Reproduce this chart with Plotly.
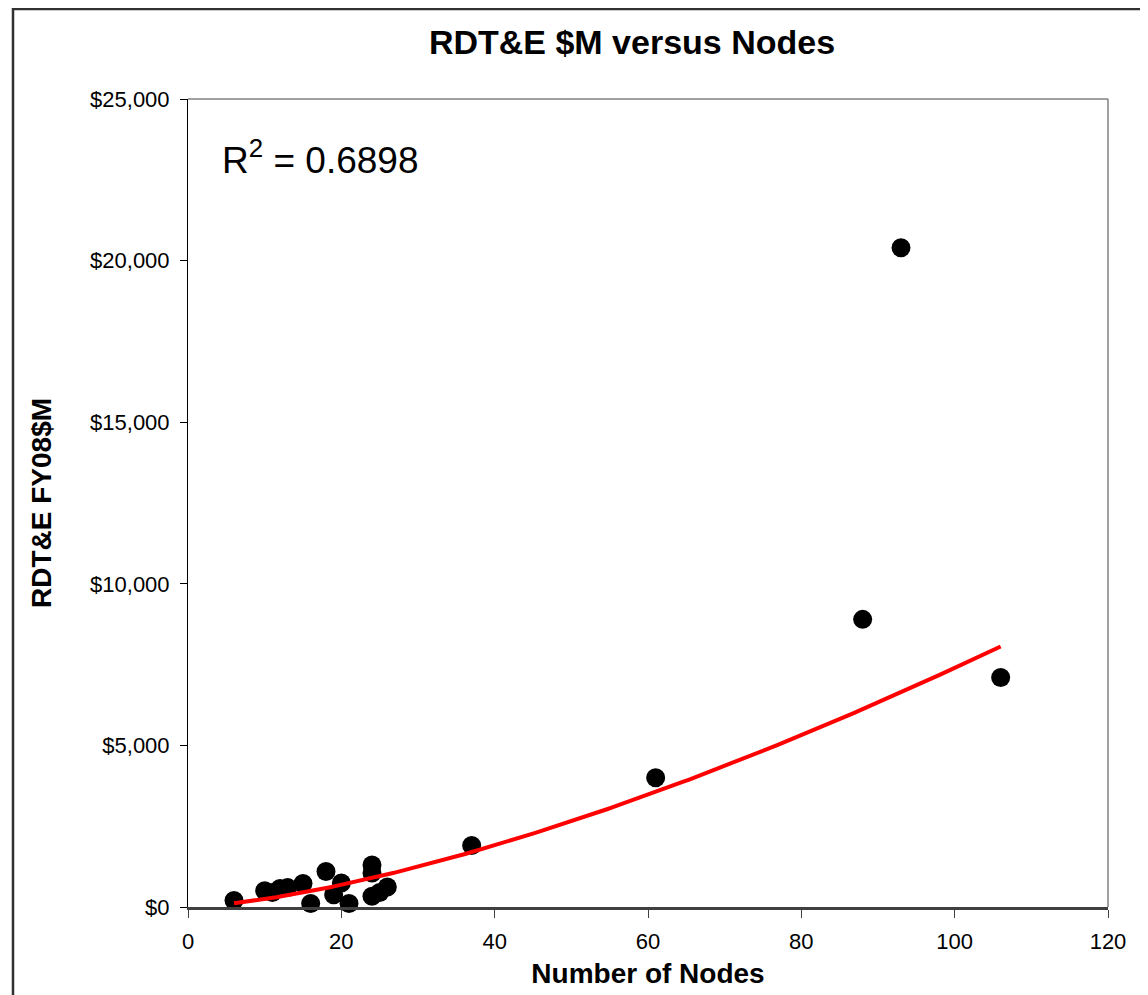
import numpy as np
import plotly.graph_objects as go

# Data
nodes = [6, 10, 11, 12, 13, 15, 16, 18, 19, 20, 21, 24, 24, 24, 25, 26, 37, 61, 88, 93, 106]
rdte = [200, 500, 450, 570, 600, 730, 110, 1100, 380, 740, 110, 1300, 1050, 330, 450, 620,
        1900, 4000, 8900, 20400, 7100]
x_ticks = [0, 20, 40, 60, 80, 100, 120]
y_ticks = [0, 5000, 10000, 15000, 20000, 25000]
y_tick_labels = ["$0", "$5,000", "$10,000", "$15,000", "$20,000", "$25,000"]
r2_text = "R<sup>2</sup> = 0.6898"

# Power trendline (least squares in log-log space, as the spreadsheet does)
lx = np.log(np.array(nodes, dtype=float))
ly = np.log(np.array(rdte, dtype=float))
b, ln_a = np.polyfit(lx, ly, 1)
tx = np.linspace(min(nodes), max(nodes), 200)
ty = np.exp(ln_a) * tx ** b

OFF = 8  # page body margin
W, H = 1148, 995
# plot area in page pixels
PL, PR, PT, PB = 188, 1108, 99, 907
L, R, T, B = PL - OFF, PR - OFF, PT - OFF, PB - OFF
pw, ph = R - L, B - T


def px(page_x):
    return (page_x - OFF - L) / pw


def py(page_y):
    return (B - (page_y - OFF)) / ph


fig = go.Figure()
fig.add_trace(go.Scatter(x=nodes, y=rdte, mode="markers",
                         marker=dict(color="black", size=19, line=dict(width=0)),
                         showlegend=False, cliponaxis=False))
fig.add_trace(go.Scatter(x=tx, y=ty, mode="lines",
                         line=dict(color="#FF0000", width=4), showlegend=False))

fig.update_layout(
    width=W, height=H,
    margin=dict(l=L, r=W - R, t=T, b=H - B),
    paper_bgcolor="white", plot_bgcolor="white",
    font=dict(family="Liberation Sans, Arial, sans-serif", color="black"),
    title=dict(text="<b>RDT&E $M versus Nodes</b>", xref="container",
               x=(632 - OFF) / W, xanchor="center",
               y=1 - (42 - OFF) / H, yanchor="middle", font=dict(size=34, color="black")),
    xaxis=dict(range=[0, 120], tickvals=x_ticks, showgrid=False, zeroline=False,
               showline=True, linecolor="#404040", linewidth=3,
               ticks="outside", ticklen=8, tickwidth=1, tickcolor="#404040",
               ticklabelstandoff=5,
               tickfont=dict(size=22, color="black"),
               title=dict(text="<b>Number of Nodes</b>", font=dict(size=28, color="black"),
                          standoff=10)),
    yaxis=dict(range=[0, 25000], tickvals=y_ticks, ticktext=y_tick_labels,
               showgrid=False, zeroline=False,
               showline=True, linecolor="black", linewidth=1,
               ticks="outside", ticklen=7, tickwidth=1, tickcolor="black",
               ticklabelstandoff=6,
               tickfont=dict(size=22, color="black"),
               title=dict(text="<b>RDT&E FY08$M</b>", font=dict(size=28, color="black"),
                          standoff=30)),
    shapes=[
        dict(type="line", xref="paper", yref="paper", x0=0, x1=1, y0=1, y1=1,
             line=dict(color="#808080", width=1.5)),
        dict(type="line", xref="paper", yref="paper", x0=1, x1=1, y0=0, y1=1,
             line=dict(color="#808080", width=1.5)),
        dict(type="rect", xref="paper", yref="paper",
             x0=px(13), x1=px(1146), y0=py(1020), y1=py(9),
             line=dict(color="#303030", width=2.5), layer="below"),
    ],
    annotations=[
        dict(text=r2_text, xref="paper", yref="paper", x=px(220), y=py(158),
             xanchor="left", yanchor="middle", showarrow=False,
             font=dict(size=37, color="black")),
    ],
)
fig.write_html("out.html")
